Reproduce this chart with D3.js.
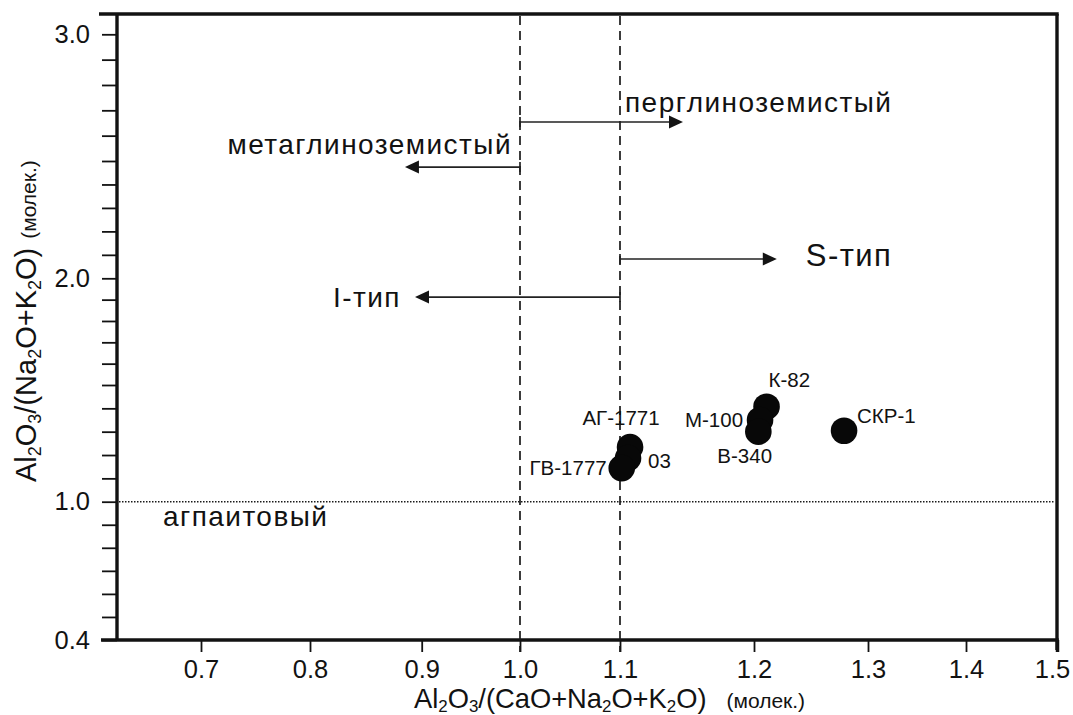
<!DOCTYPE html>
<html>
<head>
<meta charset="utf-8">
<script src="https://cdn.jsdelivr.net/npm/d3@7"></script>
<style>
  html, body { margin: 0; padding: 0; background: #fff; }
  svg { display: block; }
  text { font-family: "Liberation Sans", Arial, Helvetica, sans-serif; fill: #121212; }
</style>
</head>
<body>
<svg id="chart" width="1073" height="715"></svg>
<script>
// Samples: Al2O3/(CaO+Na2O+K2O) vs Al2O3/(Na2O+K2O), molar
const sampleNames = ["АГ-1771", "03", "ГВ-1777", "К-82", "М-100", "В-340", "СКР-1"];
const aSNK = [1.1075, 1.106, 1.1013, 1.211, 1.2053, 1.2038, 1.279];
const aNK  = [1.234, 1.187, 1.144, 1.407, 1.350, 1.300, 1.304];

// Axis tick labels
const xTickLabels = ["0.7", "0.8", "0.9", "1.0", "1.1", "1.2", "1.3", "1.4", "1.5"];
const yTickLabels = ["0.4", "1.0", "2.0", "3.0"];

// Class boundaries
const aluminaBoundary = 1.0;   // metaluminous / peraluminous
const typeBoundary = 1.1;      // I-type / S-type
const agpaiticBoundary = 1.0;  // A/NK = 1

// Field arrows: from x, to x, level
const arrowFrom = [1.0, 1.0, 1.1, 1.1];
const arrowTo   = [1.147, 0.885, 1.22, 0.894];
const arrowY    = [2.654, 2.474, 2.082, 1.912];
const arrowText = ["перглиноземистый", "метаглиноземистый", "S-тип", "I-тип"];

const svg = d3.select("#chart");

// Plot frame
const plotL = 117, plotR = 1057, plotT = 14, plotB = 640;

// Axis scales follow the printed tick spacing of the diagram
const x = d3.scaleLinear()
  .domain([0.623, 0.7, 0.8, 0.9, 1.0, 1.1, 1.2, 1.3, 1.4, 1.5])
  .range([plotL, 201, 310, 421.7, 520, 620, 754, 868, 966, plotR]);
const y = d3.scaleLinear()
  .domain([0.4, 1.0, 1.5, 2.0, 2.5, 3.0, 3.08])
  .range([plotB, 501.7, 385, 278.3, 161, 34.3, plotT]);

const ink = "#121212";
const numFont = "'Liberation Sans', Arial, sans-serif";

// Y axis: ticks every 0.1, labels on a few
const yMinor = d3.range(4, 31).map(v => v / 10);
const yAxis = d3.axisLeft(y)
  .tickValues(yMinor)
  .tickSize(15)
  .tickFormat(d => {
    const s = d3.format(".1f")(d);
    return yTickLabels.includes(s) ? s : "";
  });
const gy = svg.append("g").attr("transform", `translate(${plotL},0)`).call(yAxis);
gy.select(".domain").remove();
gy.selectAll(".tick line").attr("stroke", ink).attr("stroke-width", 1.8);
gy.selectAll(".tick text")
  .attr("x", -27)
  .attr("font-size", 25.5)
  .style("font-family", numFont)
  .attr("fill", "#1c1c1c");

// X axis
const xAxis = d3.axisBottom(x)
  .tickValues(xTickLabels.map(Number))
  .tickSize(12)
  .tickFormat((d, i) => xTickLabels[i]);
const gx = svg.append("g").attr("transform", `translate(0,${plotB})`).call(xAxis);
gx.select(".domain").remove();
gx.selectAll(".tick line").attr("stroke", ink).attr("stroke-width", 1.8);
gx.selectAll(".tick text")
  .attr("y", 20)
  .attr("dy", "0.71em")
  .attr("font-size", 25.5)
  .style("font-family", numFont)
  .attr("fill", "#1c1c1c");
// The 1.5 tick sits on the right frame edge: heavy line, label nudged inward
const lastTick = gx.selectAll(".tick").filter(d => d === 1.5);
lastTick.select("line").attr("stroke-width", 3.5);
lastTick.select("text").attr("x", -5);

// Frame
const frame = svg.append("g").attr("stroke", ink).attr("stroke-width", 3.4).attr("fill", "none");
frame.append("line").attr("x1", plotL - 16).attr("x2", plotR + 1.7).attr("y1", plotB).attr("y2", plotB);
frame.append("line").attr("x1", plotL - 18).attr("x2", plotR + 1.7).attr("y1", plotT).attr("y2", plotT);
frame.append("line").attr("x1", plotL).attr("x2", plotL).attr("y1", plotT).attr("y2", plotB);
frame.append("line").attr("x1", plotR).attr("x2", plotR).attr("y1", plotT).attr("y2", plotB + 10);

// Boundary lines
svg.append("g").selectAll("line")
  .data([aluminaBoundary, typeBoundary])
  .join("line")
  .attr("x1", d => x(d)).attr("x2", d => x(d))
  .attr("y1", plotT + 2).attr("y2", plotB + 12)
  .attr("stroke", "#1a1a1a").attr("stroke-width", 1.7)
  .attr("stroke-dasharray", "9,6");

svg.append("line")
  .attr("x1", plotL + 2).attr("x2", plotR - 2)
  .attr("y1", y(agpaiticBoundary)).attr("y2", y(agpaiticBoundary))
  .attr("stroke", "#1a1a1a").attr("stroke-width", 1.4)
  .attr("stroke-dasharray", "1.5,1.5");

// Field arrows
const arrows = arrowFrom.map((f, i) => ({ from: f, to: arrowTo[i], y: arrowY[i], text: arrowText[i] }));
const ga = svg.append("g");
arrows.forEach(a => {
  const x0 = x(a.from), x1 = x(a.to), yy = y(a.y);
  const dir = Math.sign(x1 - x0);
  ga.append("line")
    .attr("x1", x0).attr("x2", x1 - dir * 10)
    .attr("y1", yy).attr("y2", yy)
    .attr("stroke", "#222").attr("stroke-width", 1.6);
  ga.append("line")
    .attr("x1", x0).attr("x2", x0)
    .attr("y1", yy - 5).attr("y2", yy + 5)
    .attr("stroke", "#222").attr("stroke-width", 1.7);
  ga.append("path")
    .attr("d", `M${x1},${yy} L${x1 - dir * 14},${yy - 6.5} L${x1 - dir * 14},${yy + 6.5} Z`)
    .attr("fill", "#141414");
});

// Field labels placed beside their arrows
const labelStyle = sel => sel.attr("font-size", 28).attr("letter-spacing", "1.45px");
labelStyle(ga.append("text")
  .attr("x", x(typeBoundary) + 5).attr("y", y(arrowY[0]) - 10)
  .text(arrowText[0]));
labelStyle(ga.append("text")
  .attr("x", x(aluminaBoundary) - 8).attr("y", y(arrowY[1]) - 13)
  .attr("text-anchor", "end")
  .text(arrowText[1]));
labelStyle(ga.append("text")
  .attr("x", x(arrowTo[2]) + 29).attr("y", y(arrowY[2]) + 7)
  .text(arrowText[2]))
  .attr("font-size", 31);
labelStyle(ga.append("text")
  .attr("x", x(arrowTo[3]) - 14).attr("y", y(arrowY[3]) + 10)
  .attr("text-anchor", "end")
  .text(arrowText[3]));
labelStyle(svg.append("text")
  .attr("x", plotL + 46).attr("y", y(agpaiticBoundary) + 24)
  .text("агпаитовый"));

// Sample points
const samples = sampleNames.map((n, i) => ({ name: n, ax: aSNK[i], ay: aNK[i] }));
svg.append("g").selectAll("circle")
  .data(samples)
  .join("circle")
  .attr("cx", d => x(d.ax))
  .attr("cy", d => y(d.ay))
  .attr("r", 13.3)
  .attr("fill", "#080808");

// Sample labels: offset and anchor per sample
const labelPlace = {
  "АГ-1771": [-9, -22, "middle"],
  "03": [20, 10, "start"],
  "ГВ-1777": [-15, 7, "end"],
  "К-82": [2, -20, "start"],
  "М-100": [-17, 7, "end"],
  "В-340": [-41, 31, "start"],
  "СКР-1": [13, -8, "start"]
};
svg.append("g").selectAll("text")
  .data(samples)
  .join("text")
  .attr("x", d => x(d.ax) + labelPlace[d.name][0])
  .attr("y", d => y(d.ay) + labelPlace[d.name][1])
  .attr("text-anchor", d => labelPlace[d.name][2])
  .attr("font-size", 20.5)
  .text(d => d.name);

// Axis titles with subscripts
function formula(sel, parts, size, gap) {
  parts.forEach(p => {
    const t = sel.append("tspan").text(p[0]);
    if (p[1] === "sub") t.attr("font-size", size * 0.62).attr("baseline-shift", "-25%");
    else if (p[1] === "small") t.attr("font-size", 21).attr("dx", gap);
    else t.attr("font-size", size);
  });
}
const xTitle = svg.append("text").attr("x", 414).attr("y", 708);
formula(xTitle, [["Al"], ["2", "sub"], ["O"], ["3", "sub"], ["/(CaO+Na"], ["2", "sub"], ["O+K"], ["2", "sub"], ["O)"], ["(молек.)", "small"]], 27.3, 20);

const yTitle = svg.append("text").attr("transform", "translate(36,482) rotate(-90)");
formula(yTitle, [["Al"], ["2", "sub"], ["O"], ["3", "sub"], ["/(Na"], ["2", "sub"], ["O+K"], ["2", "sub"], ["O)"], ["(молек.)", "small"]], 29, 9);
</script>
</body>
</html>
